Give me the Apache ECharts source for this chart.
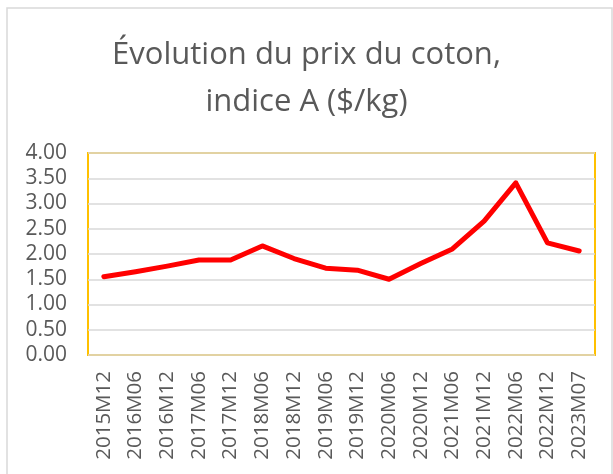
<!DOCTYPE html>
<html>
<head>
<meta charset="utf-8">
<script src="https://cdn.jsdelivr.net/npm/echarts@6/dist/echarts.min.js"></script>
<style>
  html, body { margin: 0; padding: 0; background: #fff; }
  #c1 { width: 613px; height: 474px; }
</style>
</head>
<body>
<div id="c1"></div>
<script>
// periods on the x axis
const periods = ['2015M12', '2016M06', '2016M12', '2017M06', '2017M12', '2018M06', '2018M12', '2019M06',
  '2019M12', '2020M06', '2020M12', '2021M06', '2021M12', '2022M06', '2022M12', '2023M07']
// cotton price, A index ($/kg)
const prices = [1.55, 1.65, 1.76, 1.88, 1.88, 2.16, 1.91, 1.72, 1.68, 1.50, 1.81, 2.10, 2.65, 3.41, 2.22, 2.06]
const titleLines = ['Évolution du prix du coton,', 'indice A ($/kg)']

const font = '"Open Sans", "Noto Sans", sans-serif'
const myChart = echarts.init(document.getElementById('c1'), null, { renderer: 'canvas' })

const option = {
  animation: false,
  title: {
    text: titleLines.join('\n'),
    left: 'center',
    top: 27,
    textStyle: {
      fontFamily: font,
      fontSize: 31,
      fontWeight: 'normal',
      color: '#595959',
      lineHeight: 47
    }
  },
  graphic: [
    {
      type: 'rect',
      shape: { x: 7, y: 8, width: 605, height: 500 },
      style: { fill: 'none', stroke: '#d9d9d9', lineWidth: 1.5 },
      silent: true
    },
    {
      type: 'text',
      left: 40,
      top: -21,
      style: { text: '($/kg)', fontFamily: font, fontSize: 20, fill: '#333' },
      silent: true
    }
  ],
  grid: {
    left: 88,
    top: 153,
    right: 18,
    bottom: 119,
    show: true,
    borderColor: '#FFC000',
    borderWidth: 2
  },
  xAxis: {
    type: 'category',
    data: periods,
    boundaryGap: true,
    axisLine: { show: false },
    axisTick: { show: false },
    axisLabel: {
      rotate: 90,
      interval: 0,
      margin: 16,
      fontFamily: font,
      fontSize: 20.5,
      color: '#595959'
    }
  },
  yAxis: {
    type: 'value',
    min: 0,
    max: 4,
    interval: 0.5,
    axisLine: { show: false },
    axisTick: { show: false },
    splitLine: { lineStyle: { color: '#d9d9d9', width: 1.5 } },
    axisLabel: {
      margin: 21,
      fontFamily: font,
      fontSize: 21,
      color: '#595959',
      formatter: v => v.toFixed(2)
    }
  },
  series: [
    {
      type: 'line',
      data: prices,
      symbol: 'none',
      lineStyle: { color: '#FF0000', width: 5, cap: 'round', join: 'round' }
    }
  ]
}
myChart.setOption(option)
</script>
</body>
</html>
